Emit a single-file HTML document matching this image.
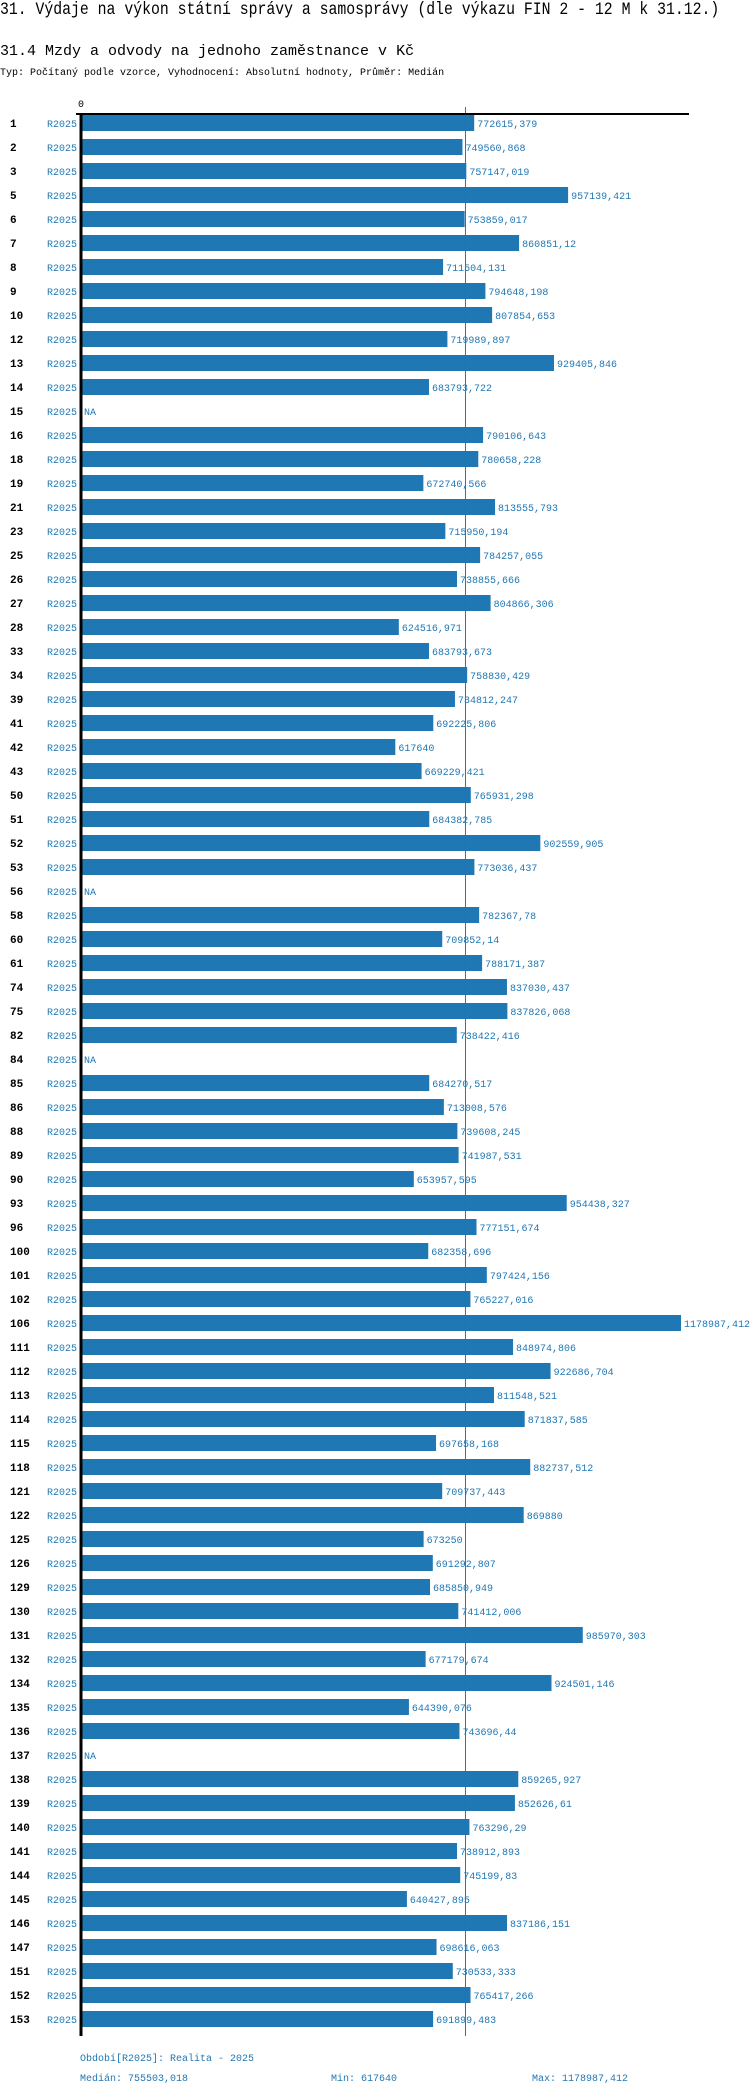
<!DOCTYPE html>
<html><head><meta charset="utf-8">
<style>
body{margin:0;background:#fff;width:750px;height:2094px;overflow:hidden;position:relative;font-family:"Liberation Mono",monospace}
.t{position:absolute;white-space:pre}
</style></head><body>
<div class="t" style="left:0;top:1px;font-size:14.8px;color:#000;transform:scaleY(1.2);transform-origin:0 0">31. Výdaje na výkon státní správy a samosprávy (dle výkazu FIN 2 - 12 M k 31.12.)</div>
<div class="t" style="left:0;top:43px;font-size:15px;color:#000">31.4 Mzdy a odvody na jednoho zaměstnance v Kč</div>
<div class="t" style="left:0;top:68px;font-size:10px;color:#000">Typ: Počítaný podle vzorce, Vyhodnocení: Absolutní hodnoty, Průměr: Medián</div>
<svg id="ch" width="750" height="2094" style="position:absolute;left:0;top:0" font-family="Liberation Mono, monospace"></svg>
<script>
const categories=["1","2","3","5","6","7","8","9","10","12","13","14","15","16","18","19","21","23","25","26","27","28","33","34","39","41","42","43","50","51","52","53","56","58","60","61","74","75","82","84","85","86","88","89","90","93","96","100","101","102","106","111","112","113","114","115","118","121","122","125","126","129","130","131","132","134","135","136","137","138","139","140","141","144","145","146","147","151","152","153"];
const values=[772615.379,749560.868,757147.019,957139.421,753859.017,860851.12,711504.131,794648.198,807854.653,719989.897,929405.846,683793.722,null,790106.643,780658.228,672740.566,813555.793,715950.194,784257.055,738855.666,804866.306,624516.971,683793.673,758830.429,734812.247,692225.806,617640,669229.421,765931.298,684382.785,902559.905,773036.437,null,782367.78,709852.14,788171.387,837030.437,837826.068,738422.416,null,684270.517,713008.576,739608.245,741987.531,653957.595,954438.327,777151.674,682358.696,797424.156,765227.016,1178987.412,848974.806,922686.704,811548.521,871837.585,697658.168,882737.512,709737.443,869880,673250,691292.807,685850.949,741412.006,985970.303,677179.674,924501.146,644390.076,743696.44,null,859265.927,852626.61,763296.29,738912.893,745199.83,640427.895,837186.151,698616.063,730533.333,765417.266,691899.483];
const period="R2025";
const median=755503.018, minV=617640, maxV=1178987.412;
const tickLabels=["0"];
const NS="http://www.w3.org/2000/svg";
const svg=document.getElementById('ch');
const x0=81, xMaxPx=681, top0=114, pitch=24;
function xs(v){return x0+(v/maxV)*(xMaxPx-x0);}
function ys(i){return top0+1+i*pitch;}
function el(t,a,txt){const e=document.createElementNS(NS,t);for(const k in a)e.setAttribute(k,a[k]);if(txt!==undefined)e.textContent=txt;svg.appendChild(e);return e;}
function fmt(v){return String(v).replace('.',',');}
const bottom=ys(categories.length-1)+25;
categories.forEach((c,i)=>{
  const y=ys(i);
  const n=el('text',{x:10,y:y+12,'font-size':11,'font-weight':'bold',fill:'#000'},c);
  
  
  const p=el('text',{x:47,y:y+12,'font-size':10,fill:'#1f77b4'},period);
  
  
  const v=values[i];
  if(v==null){
    const na=el('text',{x:84,y:y+12,'font-size':10,fill:'#1f77b4'},'NA');
    
    
  } else {
    const r=el('rect',{x:x0,y:y,width:xs(v)-x0,height:16,fill:'#1f77b4'});
    
    
    const t=el('text',{x:xs(v)+3,y:y+12,'font-size':10,fill:'#1f77b4'},fmt(v));
    
    
  }
});
const ml=el('line',{x1:xs(median),x2:xs(median),y1:107,y2:bottom,stroke:'#1f77b4','stroke-width':1});


const ha=el('line',{x1:76,x2:689,y1:114,y2:114,stroke:'#000','stroke-width':2});


const va=el('line',{x1:x0,x2:x0,y1:113,y2:bottom,stroke:'#000','stroke-width':3});


const tk=el('text',{x:x0-3,y:107,'font-size':10,fill:'#000'},tickLabels[0]);


const f1=el('text',{x:80,y:2061,'font-size':10,fill:'#1f77b4'},'Období['+period+']: Realita - 2025');


const f2=el('text',{x:80,y:2081,'font-size':10,fill:'#1f77b4'},'Medián: '+fmt(median));


const f3=el('text',{x:331,y:2081,'font-size':10,fill:'#1f77b4'},'Min: '+fmt(minV));


const f4=el('text',{x:532,y:2081,'font-size':10,fill:'#1f77b4'},'Max: '+fmt(maxV));


</script>
</body></html>
